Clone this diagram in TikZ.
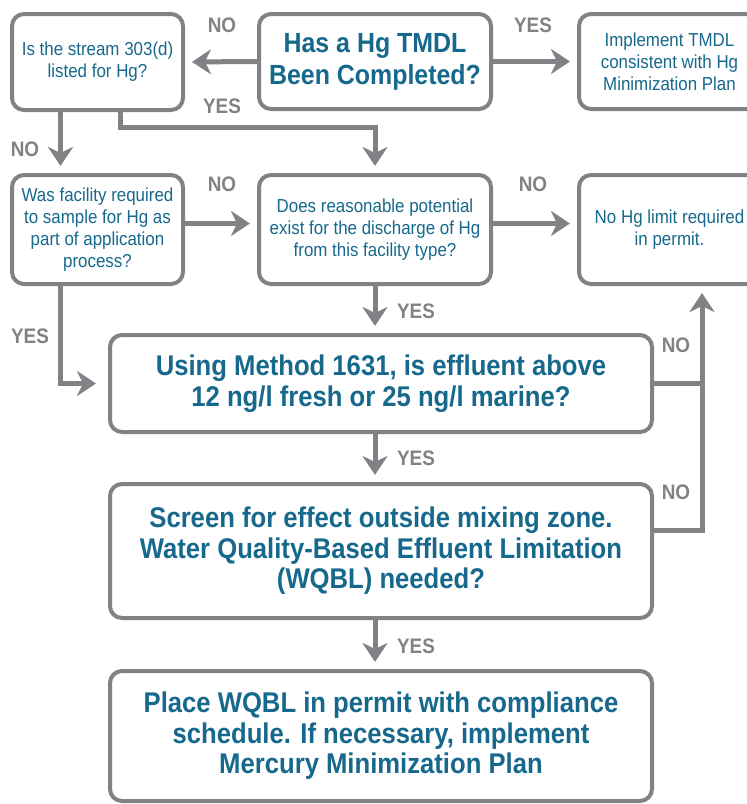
\documentclass[tikz,border=0pt]{standalone}
\usepackage{fontspec}
\setmainfont{Liberation Sans}[FakeStretch=0.9]
\usetikzlibrary{arrows.meta}
\definecolor{hggray}{RGB}{128,130,134}
\definecolor{hgblue}{RGB}{22,105,140}
\tikzset{
  qbox/.style={draw=hggray, line width=4pt, rounded corners=12pt, fill=white,
    text=hgblue, align=center, inner sep=0pt},
  small/.style={font=\fontsize{18.8}{21.8}\selectfont},
  big/.style={font=\bfseries\fontsize{28.5}{30.5}\selectfont},
  answer/.style={text=hggray, font=\bfseries\fontsize{21}{21}\selectfont},
  link/.style={draw=hggray, line width=5pt},
  flow/.style={link, -{Stealth[length=19pt,width=25pt,inset=6pt]}, shorten >=7pt}
}

\begin{document}
\begin{tikzpicture}[x=1pt,y=-1pt]
  \useasboundingbox (0,0) rectangle (747,804);

  % questions
  \node[qbox, small, minimum width=171pt, minimum height=96pt] (stream) at (97.5,62)
    {Is the stream 303(d)\\listed for Hg?};
  \node[qbox, big, font=\bfseries\fontsize{27.7}{32}\selectfont,
    minimum width=232pt, minimum height=95pt] (tmdl) at (375,61.5)
    {Has a Hg TMDL\\Been Completed?};
  \node[qbox, small, minimum width=181pt, minimum height=95pt] (impl) at (669.5,61.5)
    {Implement TMDL\\consistent with Hg\\Minimization Plan};
  \node[qbox, small, minimum width=171pt, minimum height=109pt] (sample) at (97.5,229.5)
    {Was facility required\\to sample for Hg as\\part of application\\process?};
  \node[qbox, small, minimum width=232pt, minimum height=109pt] (potential) at (375,229.5)
    {Does reasonable potential\\exist for the discharge of Hg\\from this facility type?};
  \node[qbox, small, minimum width=181pt, minimum height=109pt] (nolimit) at (669.5,229.5)
    {No Hg limit required\\in permit.};
  \node[qbox, big, minimum width=542pt, minimum height=97pt] (method) at (381,383.5)
    {Using Method 1631, is effluent above\\12 ng/l fresh or 25 ng/l marine?};
  \node[qbox, big, minimum width=542pt, minimum height=134pt] (screen) at (381,551)
    {Screen for effect outside mixing zone.\\Water Quality-Based Effluent Limitation\\(WQBL) needed?};
  \node[qbox, big, minimum width=542pt, minimum height=130pt] (place) at (381,736)
    {Place WQBL in permit with compliance\\schedule. If necessary, implement\\Mercury Minimization Plan};

  \coordinate (riser) at (702,0);

  % connectors
  \draw[flow] (tmdl.west) -- (stream.east);
  \draw[flow] (tmdl.east) -- (impl.west);
  \draw[flow] ([xshift=-37pt]stream.south) -- ([xshift=-37pt]sample.north);
  \draw[flow] ([xshift=23pt]stream.south) -- ++(0,15) -| (potential.north);
  \draw[flow] ([yshift=6pt]sample.east) -- ([yshift=6pt]potential.west);
  \draw[flow] ([yshift=6pt]potential.east) -- ([yshift=6pt]nolimit.west);
  \draw[flow, shorten >=12pt] ([xshift=-37pt]sample.south) |- (method.west);
  \draw[flow] (potential.south) -- (potential.south |- method.north);
  \draw[flow] (method.south -| potential.south) -- (screen.north -| potential.south);
  \draw[flow] (screen.south -| potential.south) -- (place.north -| potential.south);
  \draw[link] (method.east) -- (method.east -| riser);
  \draw[flow] ([yshift=21pt]screen.east) -| (riser |- nolimit.south);

  % answers
  \node[answer] (no1) at (222,25) {NO};
  \node[answer] (yes1) at (533,25) {YES};
  \node[answer] (yes2) at (222,106) {YES};
  \node[answer] (no2) at (25,149) {NO};
  \node[answer] (no3) at (222,184) {NO};
  \node[answer] (no4) at (533,184) {NO};
  \node[answer] (yes3) at (30,336) {YES};
  \node[answer] (yes4) at (416,311) {YES};
  \node[answer] (yes5) at (416,458) {YES};
  \node[answer] (yes6) at (416,646) {YES};
  \node[answer] (no5) at (676,345) {NO};
  \node[answer] (no6) at (676,492) {NO};
\end{tikzpicture}
\end{document}
